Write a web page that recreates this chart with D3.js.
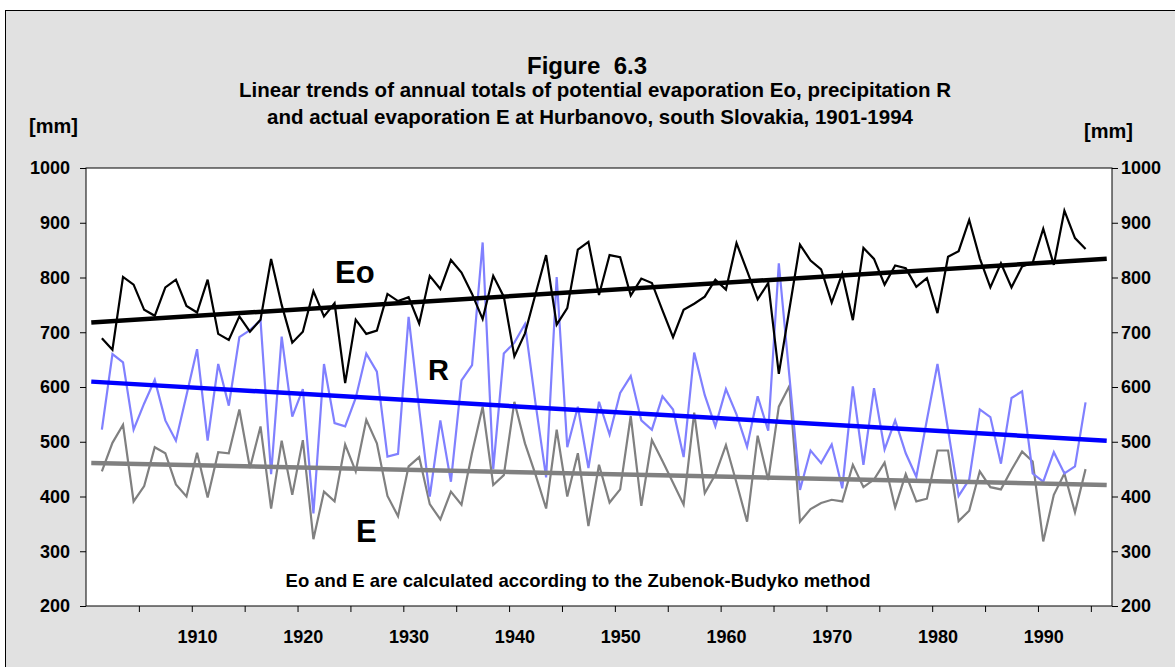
<!DOCTYPE html>
<html>
<head>
<meta charset="utf-8">
<script src="https://cdn.jsdelivr.net/npm/d3@7"></script>
<style>
  html, body { margin: 0; padding: 0; background: #fff; }
  svg text { font-family: "Liberation Sans", Arial, sans-serif; font-weight: bold; fill: #000; }
</style>
</head>
<body>
<svg id="chart" width="1175" height="667"></svg>
<script>
// categories on the x axis (Excel category axis 1900..1996), data 1901..1994
const categories = d3.range(1900, 1997);
const years = d3.range(1901, 1995);
const xLabels = [1910, 1920, 1930, 1940, 1950, 1960, 1970, 1980, 1990];
const yTicks = [200, 300, 400, 500, 600, 700, 800, 900, 1000];

// potential evaporation Eo [mm]
const eo = [
  689, 668, 801, 787, 741, 730, 782, 796, 748, 736,
  796, 697, 686, 729, 701, 723, 834, 750, 681, 701,
  775, 729, 753, 607, 723, 697, 703, 770, 757, 764,
  716, 803, 779, 832, 809, 770, 724, 803, 765, 656,
  698, 770, 841, 714, 744, 851, 865, 768, 841, 837,
  767, 798, 790, 740, 691, 741, 752, 765, 796, 778,
  863, 812, 760, 790, 624, 742, 860, 831, 815, 754,
  807, 722, 854, 834, 787, 822, 817, 783, 799, 735,
  838, 848, 905, 835, 782, 826, 782, 820, 827, 889,
  823, 922, 872, 852
];

// precipitation R [mm]
const r = [
  522, 660, 645, 522, 570, 613, 539, 502, 585, 669,
  502, 642, 566, 691, 704, 722, 441, 692, 546, 596,
  369, 642, 534, 528, 580, 661, 628, 473, 478, 728,
  560, 400, 539, 427, 612, 640, 864, 450, 661, 681,
  715, 570, 435, 801, 490, 564, 452, 573, 513, 589,
  620, 539, 522, 583, 559, 472, 663, 585, 528, 596,
  550, 491, 583, 520, 826, 620, 412, 484, 461, 495,
  415, 601, 458, 598, 486, 539, 479, 436, 540, 642,
  522, 401, 431, 559, 545, 460, 580, 592, 442, 427,
  481, 442, 455, 572
];

// actual evaporation E [mm]
const e = [
  446, 498, 531, 391, 419, 490, 479, 422, 400, 480,
  398, 481, 479, 559, 452, 528, 378, 502, 403, 503,
  322, 409, 391, 495, 446, 540, 497, 401, 364, 455,
  472, 386, 358, 409, 385, 480, 564, 421, 439, 573,
  497, 440, 378, 522, 400, 479, 346, 458, 389, 413,
  547, 383, 503, 465, 425, 385, 553, 406, 440, 494,
  425, 354, 511, 430, 564, 602, 354, 377, 388, 394,
  391, 458, 417, 431, 462, 380, 441, 391, 396, 484,
  484, 355, 374, 446, 417, 413, 449, 482, 464, 318,
  403, 442, 371, 450
];

const W = 1175;
const H = 667;
const m = { top: 168, right: 63, bottom: 61, left: 86 };
const svg = d3.select('#chart');

// chart area
svg.append('rect')
  .attr('x', 5.5).attr('y', 10.5).attr('width', W).attr('height', H)
  .attr('fill', '#e1e1e1').attr('stroke', '#000').attr('stroke-width', 1);

const x = d3.scaleLinear()
  .domain([categories[0] - 0.5, categories[categories.length - 1] + 0.5])
  .range([m.left, W - m.right]);
const y = d3.scaleLinear().domain([200, 1000]).range([H - m.bottom, m.top]);

// plot area
svg.append('rect')
  .attr('x', x.range()[0]).attr('y', y(1000))
  .attr('width', x.range()[1] - x.range()[0]).attr('height', y(200) - y(1000))
  .attr('fill', '#fff').attr('stroke', '#000').attr('stroke-width', 1);

// x axis: tick marks every 5 categories, labels every 10
const tickPos = categories.filter(c => c > categories[0] && (c - categories[0]) % 5 === 0).map(c => c - 0.5);
svg.append('g').attr('class', 'xticks')
  .attr('transform', `translate(0,${y(200)})`)
  .call(d3.axisBottom(x).tickValues(tickPos).tickSize(6).tickFormat(''));
svg.append('g').attr('class', 'xlabels')
  .attr('transform', `translate(0,${y(200)})`)
  .call(d3.axisBottom(x).tickValues(xLabels).tickSize(0).tickPadding(24).tickFormat(d3.format('d')));

svg.append('g').attr('class', 'yleft')
  .attr('transform', `translate(${x.range()[0]},0)`)
  .call(d3.axisLeft(y).tickValues(yTicks).tickSize(6).tickPadding(10).tickFormat(d3.format('d')));
svg.append('g').attr('class', 'yright')
  .attr('transform', `translate(${x.range()[1]},0)`)
  .call(d3.axisRight(y).tickValues(yTicks).tickSize(6).tickPadding(3).tickFormat(d3.format('d')));

svg.selectAll('.tick line').attr('stroke', '#000').attr('stroke-width', 1);
svg.selectAll('.domain').remove();
svg.selectAll('.tick text').attr('font-size', 18).attr('font-family', null);

// series
const series = [
  { values: e,  color: '#808080', trend: '#808080' },
  { values: r,  color: '#8080ff', trend: '#0000ff' },
  { values: eo, color: '#000000', trend: '#000000' }
];

const line = d3.line().x(d => x(d[0])).y(d => y(d[1]));

function linearFit(xs, ys) {
  const mx = d3.mean(xs), my = d3.mean(ys);
  const b = d3.sum(xs, (v, i) => (v - mx) * (ys[i] - my)) / d3.sum(xs, v => (v - mx) * (v - mx));
  return v => my + b * (v - mx);
}

series.forEach(s => {
  svg.append('path')
    .datum(years.map((yr, i) => [yr, s.values[i]]))
    .attr('fill', 'none')
    .attr('stroke', s.color)
    .attr('stroke-width', 2.2)
    .attr('stroke-linejoin', 'miter')
    .attr('d', line);
});

// linear trends, drawn over the whole category range
series.forEach(s => {
  const fit = linearFit(years, s.values);
  const ends = [categories[0], categories[categories.length - 1]];
  svg.append('path')
    .datum(ends.map(c => [c, fit(c)]))
    .attr('fill', 'none')
    .attr('stroke', s.trend)
    .attr('stroke-width', 4.5)
    .attr('d', line);
});

// titles
svg.append('text').attr('x', 587).attr('y', 74).attr('text-anchor', 'middle')
  .attr('font-size', 24).style('white-space', 'pre').text('Figure  6.3');
svg.append('text').attr('x', 595).attr('y', 97).attr('text-anchor', 'middle')
  .attr('font-size', 20.5).text('Linear trends of annual totals of potential evaporation Eo, precipitation R');
svg.append('text').attr('x', 590).attr('y', 124).attr('text-anchor', 'middle')
  .attr('font-size', 20.5).text('and actual evaporation E at Hurbanovo, south Slovakia, 1901-1994');
svg.append('text').attr('x', 29).attr('y', 133).attr('font-size', 20).text('[mm]');
svg.append('text').attr('x', 1084).attr('y', 138).attr('font-size', 20).text('[mm]');

// series labels
svg.append('text').attr('x', 335).attr('y', 283).attr('font-size', 31).text('Eo');
svg.append('text').attr('x', 428).attr('y', 380).attr('font-size', 29).text('R');
svg.append('text').attr('x', 356).attr('y', 542).attr('font-size', 31).text('E');

svg.append('text').attr('x', 578).attr('y', 587).attr('text-anchor', 'middle')
  .attr('font-size', 18.5).text('Eo and E are calculated according to the Zubenok-Budyko method');
</script>
</body>
</html>
